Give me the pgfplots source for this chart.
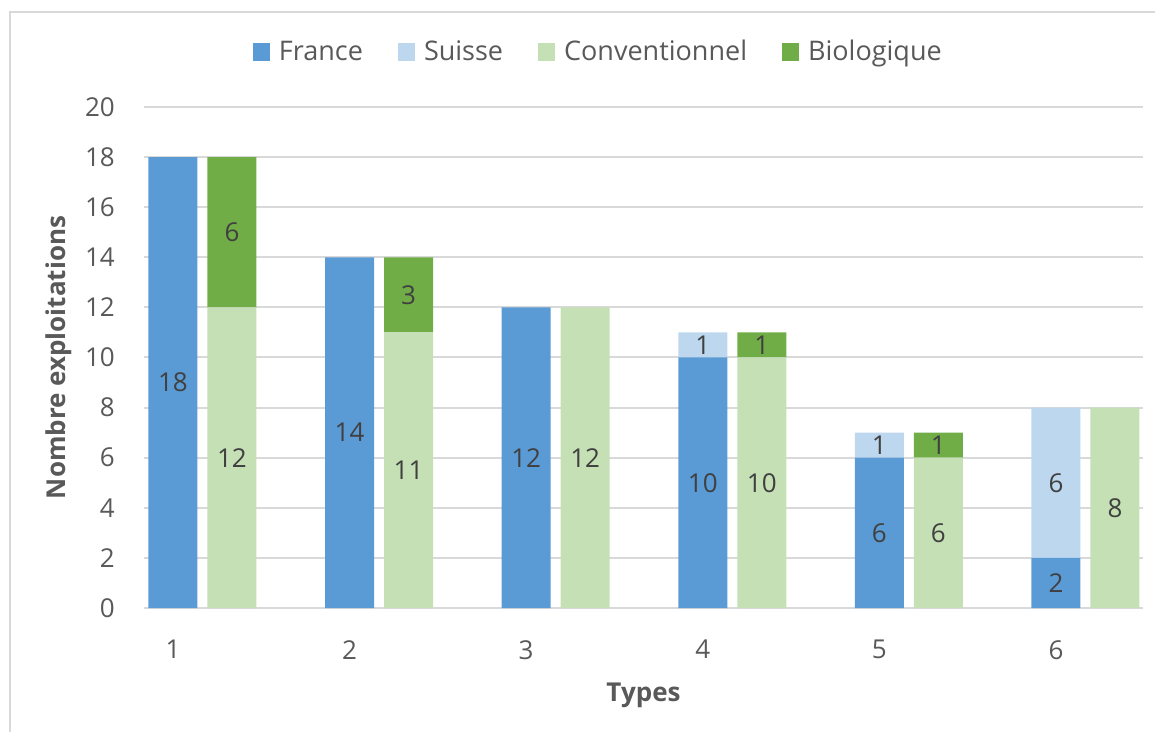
\documentclass[border=0pt]{standalone}
\usepackage{fontspec}
\setmainfont{Open Sans}
\usepackage{pgfplots}
\usepackage{pgfplotstable}
\pgfplotsset{compat=1.18}

\definecolor{france}{HTML}{5B9BD5}
\definecolor{suisse}{HTML}{BDD7EE}
\definecolor{conv}{HTML}{C5E0B4}
\definecolor{bio}{HTML}{70AD47}
\definecolor{gridgray}{HTML}{D9D9D9}
\definecolor{txtgray}{HTML}{595959}
\definecolor{lblgray}{HTML}{404040}

\newcommand{\chartfont}{\fontsize{26}{30}\selectfont}

% one table per series, x = type
\pgfplotstableread{
x y
1 18
2 14
3 12
4 10
5 6
6 2
}\france
\pgfplotstableread{
x y
1 0
2 0
3 0
4 1
5 1
6 6
}\suisse
\pgfplotstableread{
x y
1 12
2 11
3 12
4 10
5 6
6 8
}\conv
\pgfplotstableread{
x y
1 6
2 3
3 0
4 1
5 1
6 0
}\bio

\pgfplotsset{
  sqlegend/.style={legend image code/.code={%
    \fill[##1] (0pt,0pt) rectangle (17pt,18pt); \path (26pt,0pt);}},
  base/.style={
    at={(144pt,123pt)}, anchor=south west,
    scale only axis, width=999pt, height=501pt,
    xmin=0.836, xmax=6.493, ymin=0, ymax=20,
    ybar stacked, bar width=49pt,
    /pgf/number format/assume math mode=true,
    visualization depends on={\thisrow{y} \as \rawy},
    % stacked labels already sit mid-segment; skip the empty ones
    nodes near coords={\ifdim\rawy pt>0pt \pgfmathprintnumber{\rawy}\fi},
    every node near coord/.append style={anchor=center, inner sep=0pt,
      text=lblgray, font=\chartfont},
  },
}

\begin{document}
\begin{tikzpicture}[x=1pt,y=1pt]
\useasboundingbox (0,0) rectangle (1155,731);
\draw[gridgray, line width=2pt] (10,-20) -- (10,719) -- (1175,719);

\begin{axis}[base,
  axis line style={draw=none},
  major tick length=0pt,
  ymajorgrids, grid style={gridgray, line width=2pt},
  ytick={0,2,...,20}, xtick={1,...,6},
  tick label style={font=\chartfont, text=txtgray},
  yticklabel style={anchor=east, inner sep=0pt, xshift=-29pt},
  xticklabel style={anchor=north, inner sep=0pt, yshift=-32pt},
  xlabel={Types}, ylabel={Nombre exploitations},
  every axis x label/.style={at={(rel axis cs:0.5,0)}, anchor=north,
    yshift=-75pt, inner sep=0pt, font=\chartfont\bfseries, text=txtgray},
  every axis y label/.style={at={(rel axis cs:0,0.5)}, rotate=90,
    anchor=center, yshift=85pt, inner sep=0pt, font=\chartfont\bfseries, text=txtgray},
  legend columns=-1,
  legend style={at={(0.1091,1.1114)}, anchor=west, draw=none, fill=none,
    inner sep=0pt, outer sep=0pt, column sep=0pt,
    font=\fontsize{27}{30}\selectfont, text=txtgray, cells={anchor=base west},
    nodes={inner sep=0pt},
    /tikz/every even column/.append style={column sep=35pt}},
]
\addplot[fill=france, draw=none, sqlegend] table {\france};
\addlegendentry{France}
\addplot[fill=suisse, draw=none, sqlegend] table {\suisse};
\addlegendentry{Suisse}
\addlegendimage{sqlegend, fill=conv, draw=none}
\addlegendentry{Conventionnel}
\addlegendimage{sqlegend, fill=bio, draw=none}
\addlegendentry{Biologique}
\end{axis}

\begin{axis}[base, hide axis]
\addplot[fill=conv, draw=none, bar shift=59pt] table {\conv};
\addplot[fill=bio, draw=none, bar shift=59pt] table {\bio};
\end{axis}
\end{tikzpicture}
\end{document}
